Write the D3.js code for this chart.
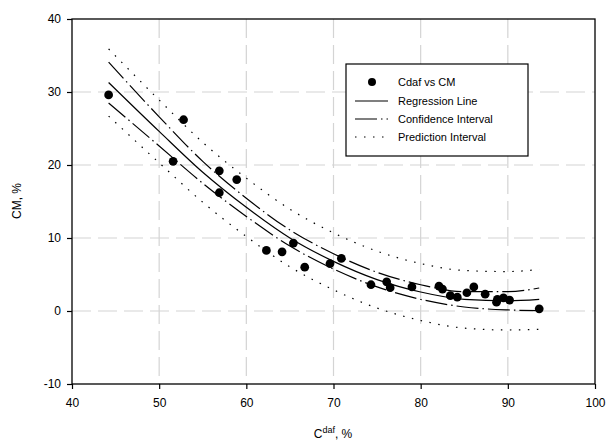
<!DOCTYPE html>
<html>
<head>
<meta charset="utf-8">
<script src="https://cdn.jsdelivr.net/npm/d3@7"></script>
<style>
  body { margin: 0; background: #fff; }
  text { font-family: Arial, "Liberation Sans", sans-serif; fill: #000; }
</style>
</head>
<body>
<div class="graph"></div>
<script>
var cdaf = [44.2, 51.6, 52.8, 56.9, 56.9, 58.9, 62.3, 64.1, 65.4, 66.7, 69.6, 70.9,
            74.3, 76.1, 76.5, 79.0, 82.1, 82.5, 83.4, 84.2, 85.3, 86.1, 87.4, 88.7,
            88.8, 89.5, 90.2, 93.6];
var cm   = [29.6, 20.5, 26.2, 19.2, 16.2, 18.0, 8.3, 8.1, 9.3, 6.0, 6.5, 7.2,
            3.6, 4.0, 3.2, 3.3, 3.4, 3.0, 2.1, 1.9, 2.5, 3.3, 2.3, 1.2,
            1.6, 1.8, 1.5, 0.3];

// fitted curves at these x values
var curveX   = [44.2, 50, 55, 60, 65, 70, 75, 80, 85, 90, 93.6];
var regLine  = [31.3, 24.6, 19.0, 14.2, 10.0, 6.8, 4.3, 2.6, 1.6, 1.4, 1.6];
var confUp   = [34.1, 26.6, 20.5, 15.45, 11.1, 7.85, 5.3, 3.6, 2.65, 2.65, 3.15];
var confLow  = [28.5, 22.6, 17.5, 12.95, 8.9, 5.75, 3.3, 1.6, 0.55, 0.15, 0.05];
var predUp   = [35.9, 28.9, 23.1, 18.2, 13.95, 10.7, 8.2, 6.5, 5.55, 5.4, 5.7];
var predLow  = [26.7, 20.3, 14.9, 10.2, 6.05, 2.9, 0.4, -1.3, -2.35, -2.6, -2.5];

var xTicks = [40, 50, 60, 70, 80, 90, 100];
var yTicks = [-10, 0, 10, 20, 30, 40];

var legendLabels = ["Cdaf vs CM", "Regression Line", "Confidence Interval", "Prediction Interval"];

var w = 607, h = 446;
var pLeft = 72, pRight = 595, pTop = 19, pBottom = 384;

var svg = d3.select('div.graph')
            .append("svg")
            .attr("width", w)
            .attr("height", h);

var x = d3.scaleLinear().domain([40, 100]).range([pLeft, pRight]);
var y = d3.scaleLinear().domain([-10, 40]).range([pBottom, pTop]);

// grid
svg.append("g").selectAll("line")
   .data(xTicks.slice(1, -1))
   .enter().append("line")
   .attr("x1", d => x(d)).attr("x2", d => x(d))
   .attr("y1", pTop).attr("y2", pBottom)
   .attr("stroke", "#d4d4d4").attr("stroke-width", 1.2)
   .attr("stroke-dasharray", "19,7");
svg.append("g").selectAll("line")
   .data(yTicks.slice(1, -1))
   .enter().append("line")
   .attr("y1", d => y(d)).attr("y2", d => y(d))
   .attr("x1", pLeft).attr("x2", pRight)
   .attr("stroke", "#d4d4d4").attr("stroke-width", 1.2)
   .attr("stroke-dasharray", "19,7");

// axes
var xAxis = svg.append("g")
   .attr("transform", "translate(0," + pBottom + ")")
   .call(d3.axisBottom(x).tickValues(xTicks).tickFormat(d => String(d))
         .tickSizeInner(5).tickSizeOuter(0).tickPadding(9));
var yAxis = svg.append("g")
   .attr("transform", "translate(" + pLeft + ",0)")
   .call(d3.axisLeft(y).tickValues(yTicks).tickFormat(d => String(d))
         .tickSizeInner(5).tickSizeOuter(0).tickPadding(6));
[xAxis, yAxis].forEach(function(a) {
  a.select(".domain").remove();
  a.selectAll("text").style("font-size", "12px").style("font-family", "Arial, 'Liberation Sans', sans-serif");
  a.selectAll("line").attr("stroke", "#000").attr("stroke-width", 1.2);
});

// frame
svg.append("rect")
   .attr("x", pLeft).attr("y", pTop)
   .attr("width", pRight - pLeft).attr("height", pBottom - pTop)
   .attr("fill", "none").attr("stroke", "#000").attr("stroke-width", 1.3);

// curves
var line = d3.line()
   .x(d => x(d[0]))
   .y(d => y(d[1]))
   .curve(d3.curveMonotoneX);

var curves = [
  { vals: regLine, dash: null },
  { vals: confUp, dash: "22,4,1.5,4" },
  { vals: confLow, dash: "22,4,1.5,4" },
  { vals: predUp, dash: "1.5,7.5" },
  { vals: predLow, dash: "1.5,7.5" }
];
curves.forEach(function(c) {
  svg.append("path")
     .datum(d3.zip(curveX, c.vals))
     .attr("d", line)
     .attr("fill", "none")
     .attr("stroke", "#000")
     .attr("stroke-width", 1.2)
     .attr("stroke-dasharray", c.dash);
});

// points
svg.append("g").selectAll("path")
   .data(d3.zip(cdaf, cm))
   .enter().append("path")
   .attr("transform", d => "translate(" + x(d[0]) + "," + y(d[1]) + ")")
   .attr("d", d3.symbol().type(d3.symbolCircle).size(60))
   .attr("fill", "#000");

// legend
var lg = svg.append("g").attr("transform", "translate(346,64)");
lg.append("rect")
  .attr("width", 182).attr("height", 92)
  .attr("fill", "#fff").attr("stroke", "#000").attr("stroke-width", 1.2);
var rowY = [18, 37, 55, 73];
var lgDash = [null, null, "22,4,1.5,4", "1.5,7.5"];
legendLabels.forEach(function(lab, i) {
  if (i == 0) {
    lg.append("path")
      .attr("transform", "translate(26," + rowY[i] + ")")
      .attr("d", d3.symbol().type(d3.symbolCircle).size(50))
      .attr("fill", "#000");
  } else {
    lg.append("line")
      .attr("x1", 9).attr("x2", 42)
      .attr("y1", rowY[i]).attr("y2", rowY[i])
      .attr("stroke", "#000").attr("stroke-width", 1.2)
      .attr("stroke-dasharray", lgDash[i]);
  }
  lg.append("text")
    .attr("x", 52).attr("y", rowY[i] + 4)
    .style("font-size", "11px")
    .text(lab);
});

// axis titles
var xt = svg.append("text")
   .attr("x", 333).attr("y", 438)
   .attr("text-anchor", "middle")
   .style("font-size", "12px");
xt.append("tspan").text("C");
xt.append("tspan").attr("dy", -5).style("font-size", "9px").text("daf");
xt.append("tspan").attr("dy", 5).text(", %");

svg.append("text")
   .attr("transform", "translate(21,201) rotate(-90)")
   .attr("text-anchor", "middle")
   .style("font-size", "12px")
   .text("CM, %");
</script>
</body>
</html>
